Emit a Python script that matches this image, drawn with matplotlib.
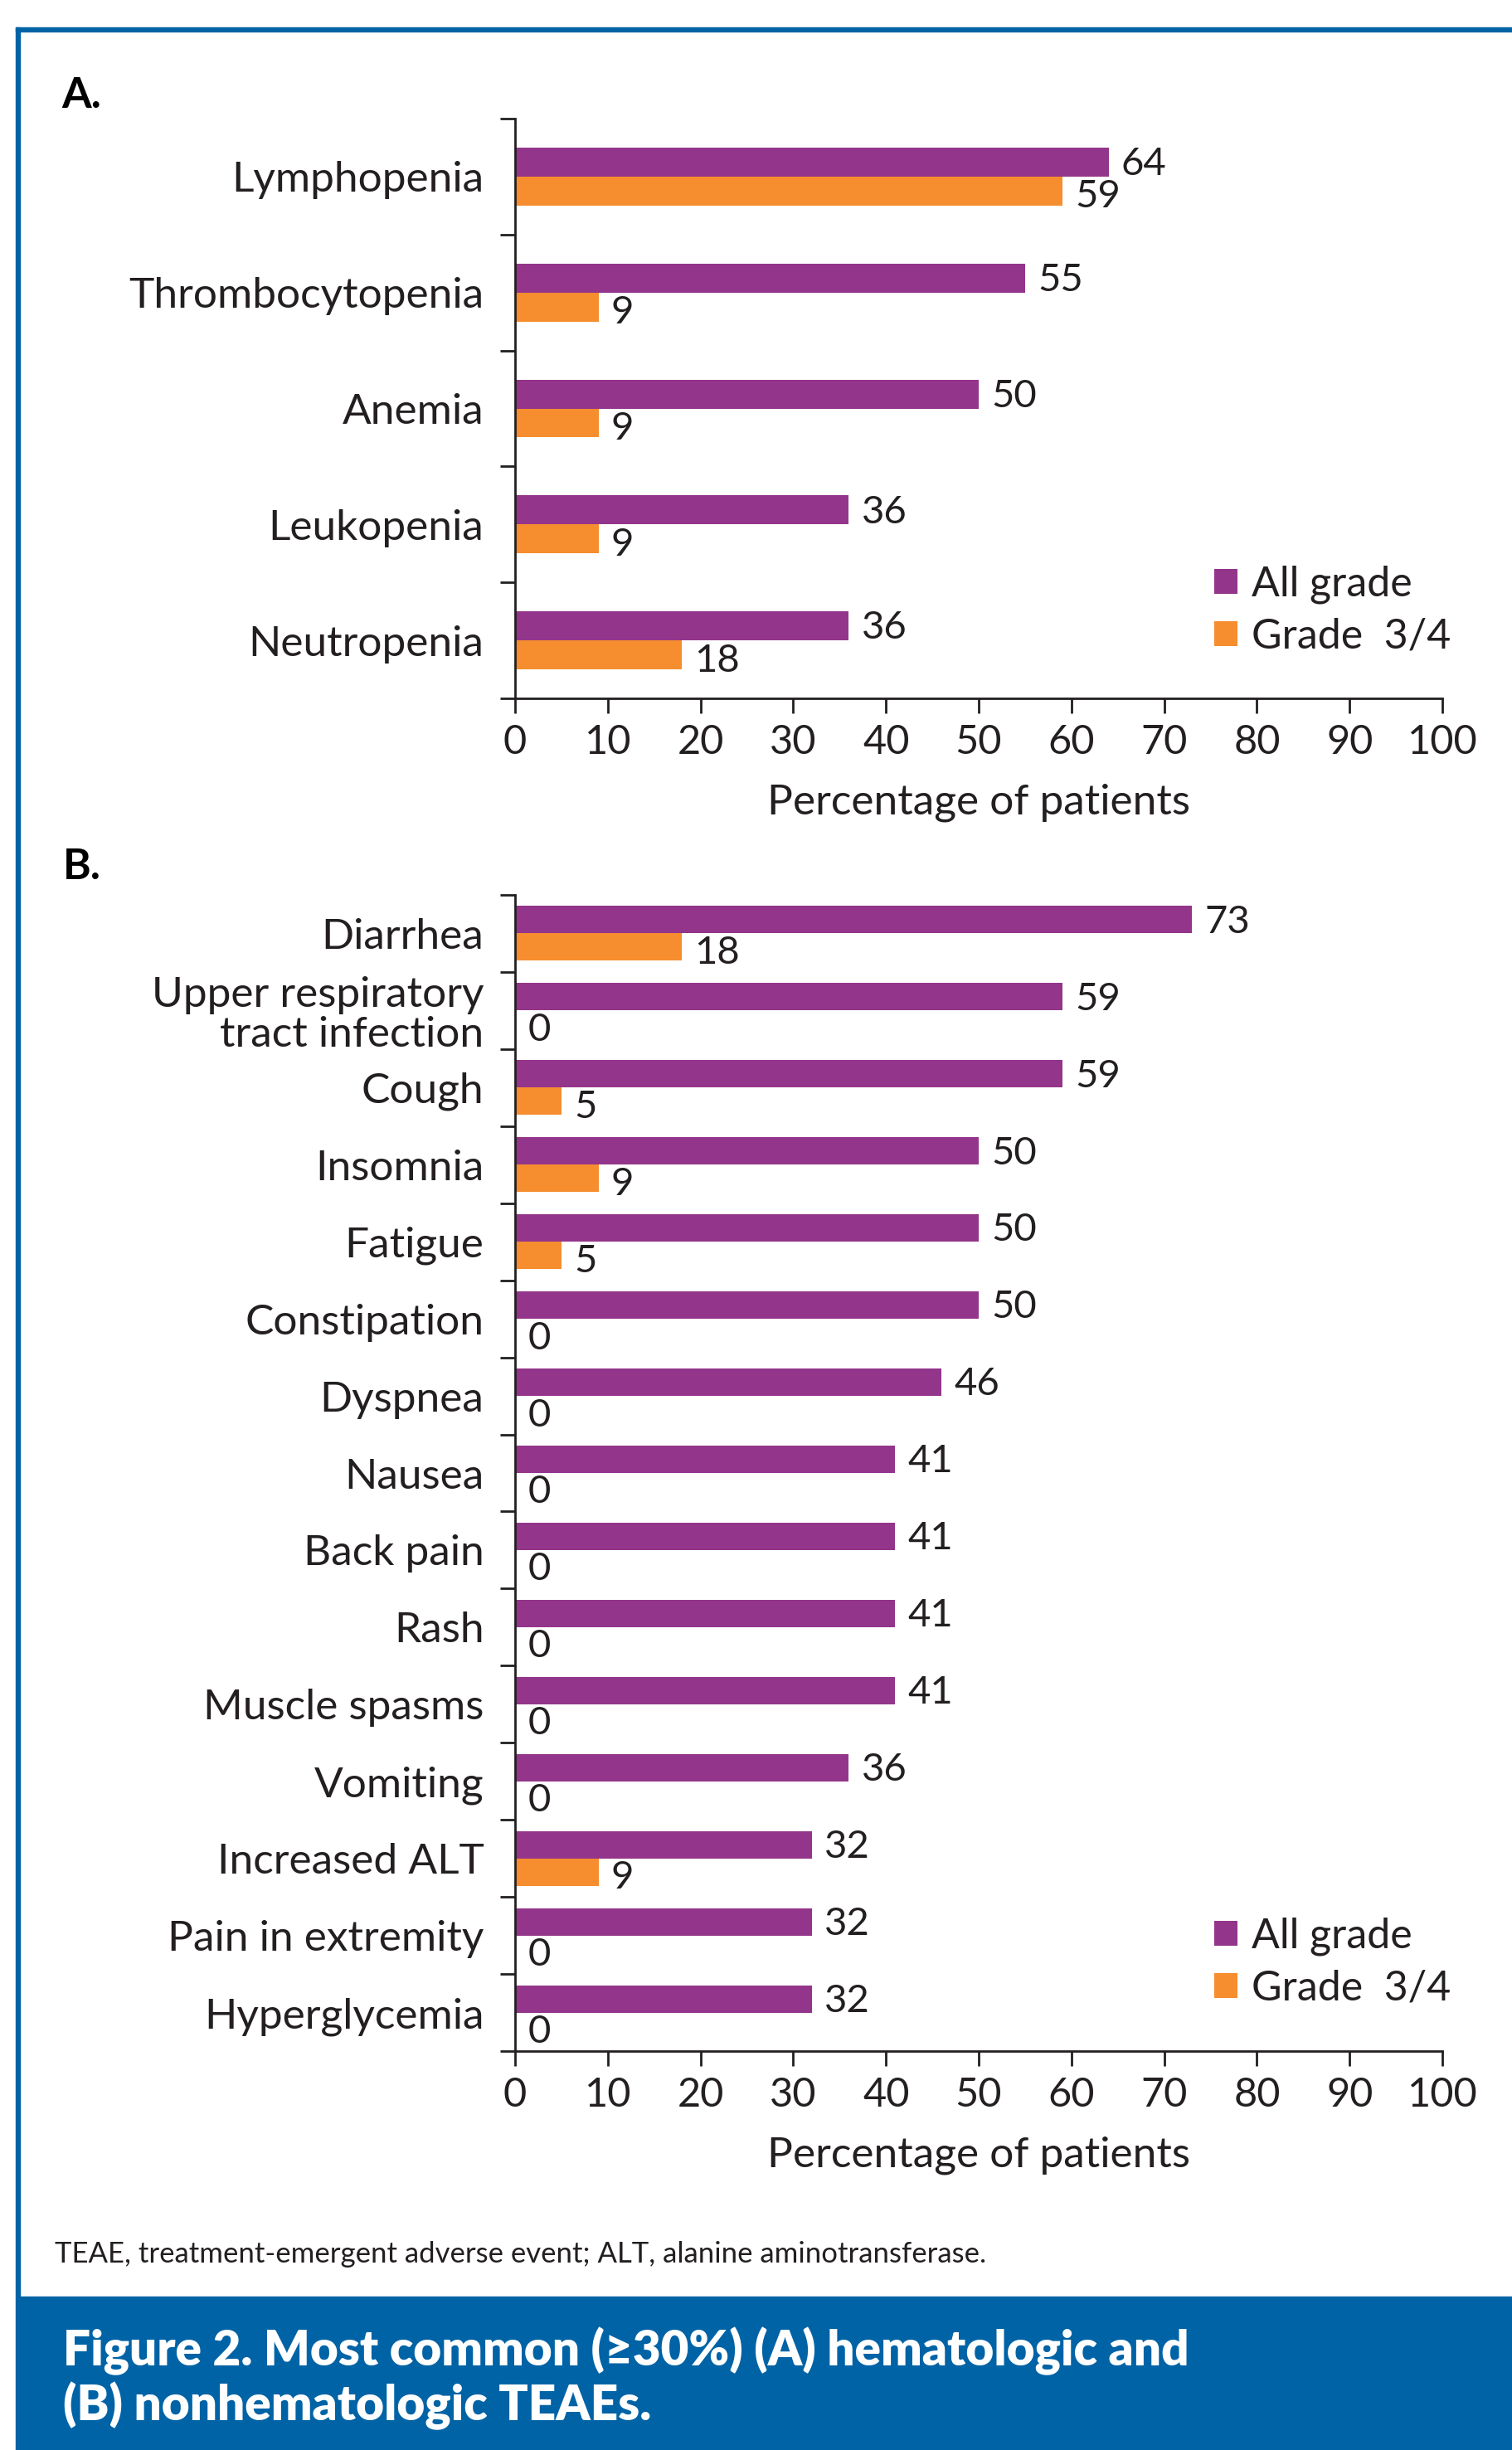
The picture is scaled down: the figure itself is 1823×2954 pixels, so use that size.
import matplotlib.pyplot as plt
from matplotlib.patches import Rectangle
import numpy as np

plt.rcParams['font.family'] = ['Lato', 'DejaVu Sans']

# data
cats_a = ['Lymphopenia', 'Thrombocytopenia', 'Anemia', 'Leukopenia', 'Neutropenia']
all_a = [64, 55, 50, 36, 36]
g34_a = [59, 9, 9, 9, 18]

cats_b = ['Diarrhea', 'Upper respiratory\ntract infection', 'Cough', 'Insomnia', 'Fatigue',
          'Constipation', 'Dyspnea', 'Nausea', 'Back pain', 'Rash', 'Muscle spasms',
          'Vomiting', 'Increased ALT', 'Pain in extremity', 'Hyperglycemia']
all_b = [73, 59, 59, 50, 50, 50, 46, 41, 41, 41, 41, 36, 32, 32, 32]
g34_b = [18, 0, 5, 9, 5, 0, 0, 0, 0, 0, 0, 0, 9, 0, 0]

series_names = ['All grade', 'Grade  3/4']
xticks = list(range(0, 101, 10))

PURPLE = '#93358A'
ORANGE = '#F68D2E'
BLUE = '#0063A6'
INK = '#231F20'

W, H = 1823, 2954
fig = plt.figure(figsize=(W / 100, H / 100), dpi=100)

# blue frame and caption band
fig.patches.append(Rectangle((19 / W, 0), 1 - 19 / W, 1 - 2769 / H, transform=fig.transFigure,
                             color=BLUE, zorder=0))
fig.patches.append(Rectangle((19 / W, 1 - 2769 / H), 5 / W, (2769 - 33) / H, transform=fig.transFigure,
                             color=BLUE, zorder=0))
fig.patches.append(Rectangle((19 / W, 1 - 38 / H), 1 - 19 / W, 5 / H, transform=fig.transFigure,
                             color=BLUE, zorder=0))


def panel(rect, cats, v_all, v_g34, bar_h, legend_top):
    ax = fig.add_axes(rect)
    y = np.arange(len(cats))
    b1 = ax.barh(y - bar_h / 2, v_all, height=bar_h, color=PURPLE, label=series_names[0])
    b2 = ax.barh(y + bar_h / 2, v_g34, height=bar_h, color=ORANGE, label=series_names[1])
    for yy, v in zip(y, v_all):
        ax.annotate(str(v), (v, yy - bar_h / 2), xytext=(11, -2), textcoords='offset points',
                    va='center', ha='left', fontsize=34, color=INK)
    for yy, v in zip(y, v_g34):
        ax.annotate(str(v), (v, yy + bar_h / 2), xytext=(11, -5), textcoords='offset points',
                    va='center', ha='left', fontsize=34, color=INK)
    ax.set_xlim(0, 100)
    ax.set_ylim(len(cats) - 0.5, -0.5)
    ax.set_xticks(xticks)
    ax.set_xticklabels([str(t) for t in xticks], fontsize=35, color=INK)
    ax.set_yticks(np.arange(len(cats) + 1) - 0.5)
    ax.set_yticklabels([])
    ax.set_yticks(y, minor=True)
    ax.set_yticklabels(cats, minor=True, fontsize=37, color=INK, linespacing=1.05)
    ax.tick_params(axis='y', which='major', length=13, width=2, color=INK, direction='out')
    ax.tick_params(axis='y', which='minor', length=0, pad=27)
    ax.tick_params(axis='x', length=13, width=2, color=INK, direction='out', pad=9)
    for s in ['top', 'right']:
        ax.spines[s].set_visible(False)
    for s in ['left', 'bottom']:
        ax.spines[s].set_linewidth(2)
        ax.spines[s].set_color(INK)
    ax.set_xlabel('Percentage of patients', fontsize=37, color=INK, labelpad=20)
    ax.legend(handles=[b1, b2], loc='upper left', bbox_to_anchor=(1464 / W, 1 - legend_top / H),
              bbox_transform=fig.transFigure, frameon=False, prop={'size': 36},
              handlelength=0.55, handleheight=0.55, handletextpad=0.35, labelspacing=0.32,
              borderpad=0, borderaxespad=0, labelcolor=INK)
    return ax


ax_a = panel([621 / W, 1 - 842 / H, 1118 / W, 699 / H], cats_a, all_a, g34_a, 0.25, 682)
ax_b = panel([621 / W, 1 - 2473 / H, 1118 / W, 1394 / H], cats_b, all_b, g34_b, 0.355, 2312)

fig.text(74 / W, 1 - 130 / H, 'A.', fontsize=37, fontweight='bold', color='black', va='baseline')
fig.text(76 / W, 1 - 1060 / H, 'B.', fontsize=37, fontweight='bold', color='black', va='baseline')

fig.text(66 / W, 1 - 2728 / H, 'TEAE, treatment-emergent adverse event; ALT, alanine aminotransferase.',
         fontsize=25, color=INK, va='baseline')
fig.text(76 / W, 1 - 2918 / H, 'Figure 2. Most common (≥30%) (A) hematologic and\n(B) nonhematologic TEAEs.',
         fontsize=42, fontweight='heavy', color='white', va='baseline', linespacing=1.15)

fig.savefig('out.png', dpi=100)
